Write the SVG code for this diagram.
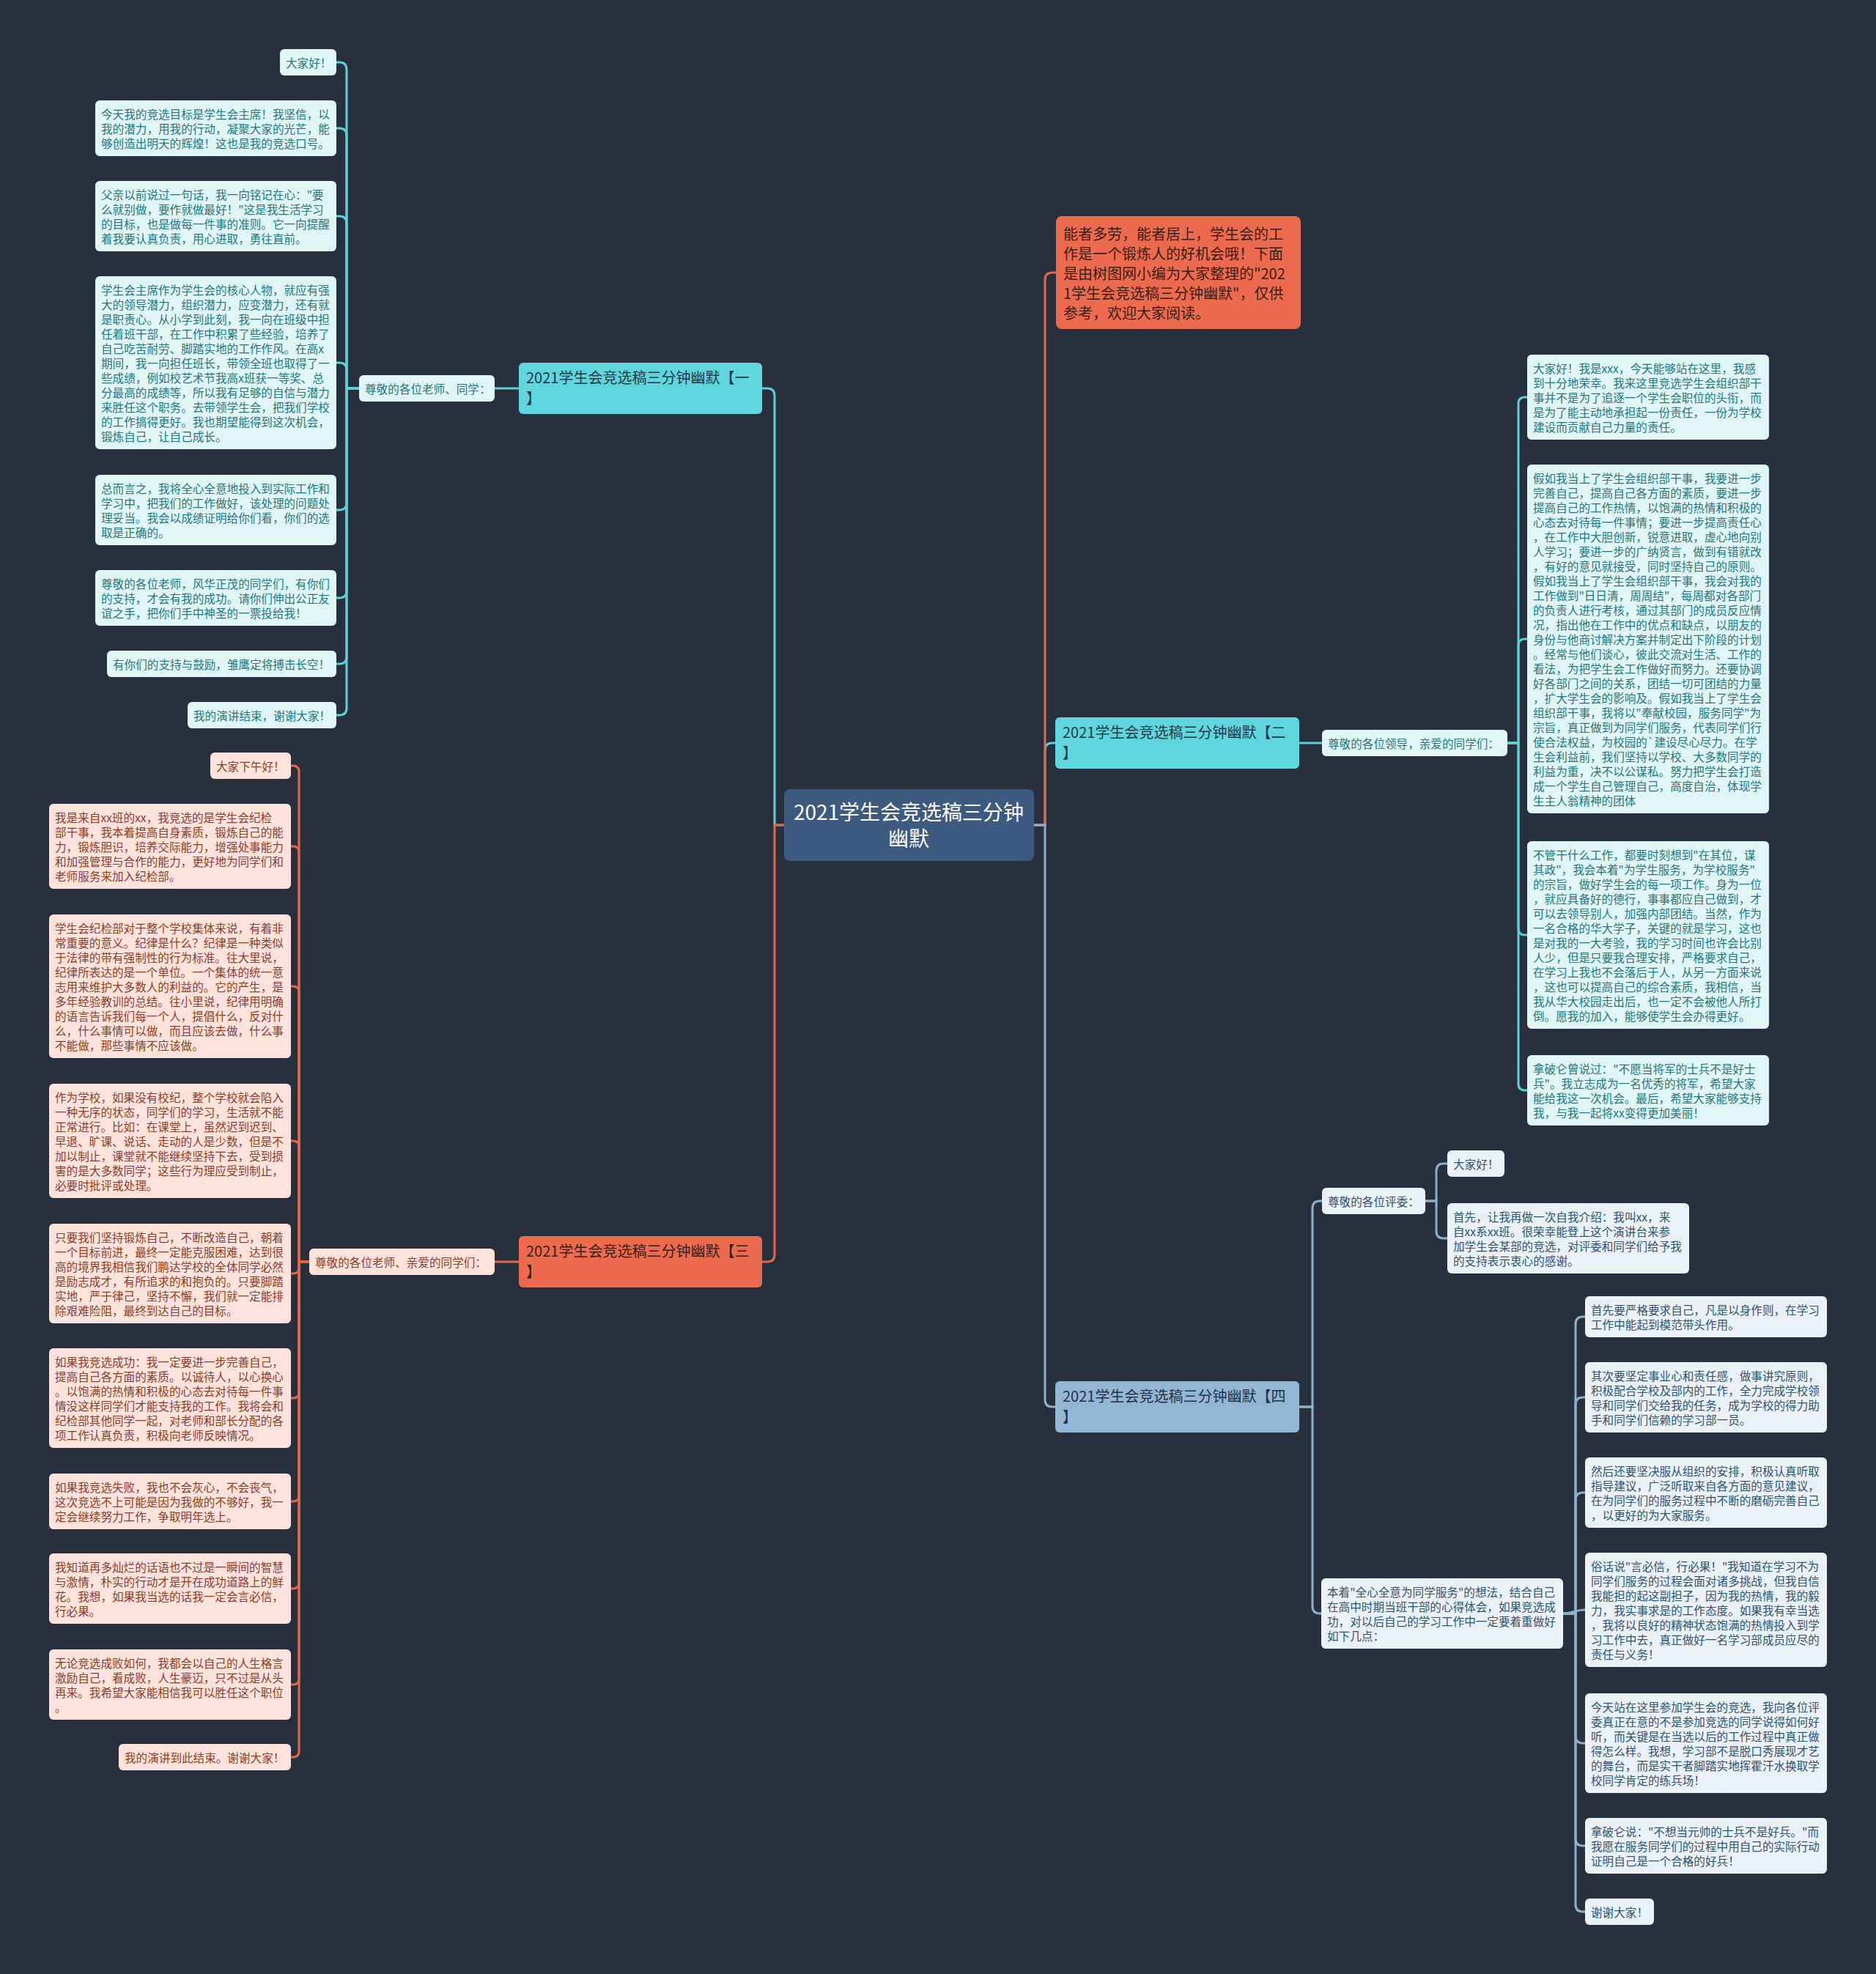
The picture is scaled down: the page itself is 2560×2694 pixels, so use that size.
<svg xmlns="http://www.w3.org/2000/svg" width="2560" height="2694" viewBox="0 0 2560 2694">
<style>
text{font-family:"Noto Sans CJK SC","Noto Sans",sans-serif;font-size:15.6px}
.lc{fill:#dff5f6}.lo{fill:#fde3dc}.lb{fill:#e9f0f6}
.tc{fill:#23777d}.to{fill:#8e3b29}.tb{fill:#2f5373}
.bc{fill:#5fd6dd}.bo{fill:#ec6b4e}.bb{fill:#93b6d3}
.bt{font-size:20px}
.btc{fill:#1e3a46}.bto{fill:#3a1d16}.btb{fill:#1e3348}
.ln{fill:none;stroke-width:3;stroke-linecap:round}
.cc{stroke:#5ccfd8}.co{stroke:#e2674b}.cb{stroke:#8fb0cc}
</style>
<rect x="0" y="0" width="2560" height="2694" fill="#29303d"/>

<g id="connectors">
 <g class="ln cc">
  <path d="M1070,1126 H1057 V540 Q1057,530 1047,530 H1040"/>
  <path d="M708,530 H675"/>
  <path d="M490,530 H473 V95 Q473,85 463,85 H459"/>
  <path d="M490,530 H473 V185 Q473,175 463,175 H459"/>
  <path d="M490,530 H473 V305 Q473,295 463,295 H459"/>
  <path d="M490,530 H473 V505 Q473,495 463,495 H459"/>
  <path d="M490,530 H473 V686 Q473,696 463,696 H459"/>
  <path d="M490,530 H473 V806 Q473,816 463,816 H459"/>
  <path d="M490,530 H473 V896 Q473,906 463,906 H459"/>
  <path d="M490,530 H473 V966 Q473,976 463,976 H459"/>
  <path d="M1411,1126 H1426 V1024 Q1426,1014 1436,1014 H1440"/>
  <path d="M1773,1014 H1804"/>
  <path d="M2057,1014 H2072 V551 Q2072,542 2081,542 H2084"/>
  <path d="M2057,1014 H2072 V881 Q2072,872 2081,872 H2084"/>
  <path d="M2057,1014 H2072 V1267 Q2072,1276 2081,1276 H2084"/>
  <path d="M2057,1014 H2072 V1479 Q2072,1488 2081,1488 H2084"/>
 </g>
 <g class="ln co">
  <path d="M1070,1126 H1057 V1712 Q1057,1722 1047,1722 H1040"/>
  <path d="M708,1722 H675"/>
  <path d="M422,1722 H408 V1053 Q408,1045 400,1045 H397"/>
  <path d="M422,1722 H408 V1163 Q408,1155 400,1155 H397"/>
  <path d="M422,1722 H408 V1354 Q408,1346 400,1346 H397"/>
  <path d="M422,1722 H408 V1565 Q408,1557 400,1557 H397"/>
  <path d="M422,1722 H408 V1730 Q408,1738 400,1738 H397"/>
  <path d="M422,1722 H408 V1900 Q408,1908 400,1908 H397"/>
  <path d="M422,1722 H408 V2041 Q408,2049 400,2049 H397"/>
  <path d="M422,1722 H408 V2160 Q408,2168 400,2168 H397"/>
  <path d="M422,1722 H408 V2291 Q408,2299 400,2299 H397"/>
  <path d="M422,1722 H408 V2390 Q408,2398 400,2398 H397"/>
  <path d="M1411,1126 H1426 V382 Q1426,372 1436,372 H1441"/>
 </g>
 <g class="ln cb">
  <path d="M1411,1126 H1426 V1910 Q1426,1920 1436,1920 H1440"/>
  <path d="M1773,1920 H1791 V1649 Q1791,1639 1801,1639 H1804"/>
  <path d="M1773,1920 H1791 V2192 Q1791,2202 1801,2202 H1803"/>
  <path d="M1945,1639 H1960 V1598 Q1960,1588 1970,1588 H1975"/>
  <path d="M1945,1639 H1960 V1680 Q1960,1690 1970,1690 H1975"/>
  <path d="M2133,2202 H2150 V1807 Q2150,1797 2160,1797 H2163"/>
  <path d="M2133,2202 H2150 V1917 Q2150,1907 2160,1907 H2163"/>
  <path d="M2133,2202 H2150 V2047 Q2150,2037 2160,2037 H2163"/>
  <path d="M2133,2202 C2150,2202 2146,2197 2163,2197"/>
  <path d="M2133,2202 H2150 V2369 Q2150,2379 2160,2379 H2163"/>
  <path d="M2133,2202 H2150 V2509 Q2150,2519 2160,2519 H2163"/>
  <path d="M2133,2202 H2150 V2599 Q2150,2609 2160,2609 H2163"/>
 </g>
</g>

<g id="center">
 <rect x="1070" y="1077" width="341" height="98" rx="8" fill="#3d5a80"/>
 <text x="1240" y="1119" text-anchor="middle" fill="#ffffff" style="font-size:28px">2021学生会竞选稿三分钟</text>
 <text x="1240" y="1155" text-anchor="middle" fill="#ffffff" style="font-size:28px">幽默</text>
</g>

<g id="intro">
 <rect x="1441" y="295" width="334" height="154" rx="8" class="bo"/>
 <text class="bt bto"><tspan x="1451" y="327">能者多劳，能者居上，学生会的工</tspan><tspan x="1451" dy="27">作是一个锻炼人的好机会哦！下面</tspan><tspan x="1451" dy="27">是由树图网小编为大家整理的"202</tspan><tspan x="1451" dy="27">1学生会竞选稿三分钟幽默"，仅供</tspan><tspan x="1451" dy="27">参考，欢迎大家阅读。</tspan></text>
</g>

<g id="branch1">
 <rect x="708" y="495" width="332" height="70" rx="6" class="bc"/>
 <text class="bt btc"><tspan x="718" y="523">2021学生会竞选稿三分钟幽默【一</tspan><tspan x="718" dy="28">】</tspan></text>
</g>
<g id="label1">
 <rect x="490" y="512" width="185" height="36" rx="6" class="lc"/>
 <text class="tc" x="498" y="537">尊敬的各位老师、同学：</text>
</g>
<g id="b1-leaf1"><rect x="382" y="67" width="77" height="36" rx="6" class="lc"/><text class="tc" x="390" y="92">大家好！</text></g>
<g id="b1-leaf2"><rect x="130" y="137" width="329" height="76" rx="6" class="lc"/><text class="tc"><tspan x="138" y="162">今天我的竞选目标是学生会主席！我坚信，以</tspan><tspan x="138" dy="20">我的潜力，用我的行动，凝聚大家的光芒，能</tspan><tspan x="138" dy="20">够创造出明天的辉煌！这也是我的竞选口号。</tspan></text></g>
<g id="b1-leaf3"><rect x="130" y="247" width="329" height="96" rx="6" class="lc"/><text class="tc"><tspan x="138" y="272">父亲以前说过一句话，我一向铭记在心："要</tspan><tspan x="138" dy="20">么就别做，要作就做最好！"这是我生活学习</tspan><tspan x="138" dy="20">的目标，也是做每一件事的准则。它一向提醒</tspan><tspan x="138" dy="20">着我要认真负责，用心进取，勇往直前。</tspan></text></g>
<g id="b1-leaf4"><rect x="130" y="377" width="329" height="236" rx="6" class="lc"/><text class="tc"><tspan x="138" y="402">学生会主席作为学生会的核心人物，就应有强</tspan><tspan x="138" dy="20">大的领导潜力，组织潜力，应变潜力，还有就</tspan><tspan x="138" dy="20">是职责心。从小学到此刻，我一向在班级中担</tspan><tspan x="138" dy="20">任着班干部，在工作中积累了些经验，培养了</tspan><tspan x="138" dy="20">自己吃苦耐劳、脚踏实地的工作作风。在高x</tspan><tspan x="138" dy="20">期间，我一向担任班长，带领全班也取得了一</tspan><tspan x="138" dy="20">些成绩，例如校艺术节我高x班获一等奖、总</tspan><tspan x="138" dy="20">分最高的成绩等，所以我有足够的自信与潜力</tspan><tspan x="138" dy="20">来胜任这个职务。去带领学生会，把我们学校</tspan><tspan x="138" dy="20">的工作搞得更好。我也期望能得到这次机会，</tspan><tspan x="138" dy="20">锻炼自己，让自己成长。</tspan></text></g>
<g id="b1-leaf5"><rect x="130" y="648" width="329" height="96" rx="6" class="lc"/><text class="tc"><tspan x="138" y="673">总而言之，我将全心全意地投入到实际工作和</tspan><tspan x="138" dy="20">学习中，把我们的工作做好，该处理的问题处</tspan><tspan x="138" dy="20">理妥当。我会以成绩证明给你们看，你们的选</tspan><tspan x="138" dy="20">取是正确的。</tspan></text></g>
<g id="b1-leaf6"><rect x="130" y="778" width="329" height="76" rx="6" class="lc"/><text class="tc"><tspan x="138" y="803">尊敬的各位老师，风华正茂的同学们，有你们</tspan><tspan x="138" dy="20">的支持，才会有我的成功。请你们伸出公正友</tspan><tspan x="138" dy="20">谊之手，把你们手中神圣的一票投给我！</tspan></text></g>
<g id="b1-leaf7"><rect x="146" y="888" width="313" height="36" rx="6" class="lc"/><text class="tc" x="154" y="913">有你们的支持与鼓励，雏鹰定将搏击长空！</text></g>
<g id="b1-leaf8"><rect x="256" y="958" width="203" height="36" rx="6" class="lc"/><text class="tc" x="264" y="983">我的演讲结束，谢谢大家！</text></g>

<g id="branch3">
 <rect x="708" y="1687" width="332" height="70" rx="6" class="bo"/>
 <text class="bt bto"><tspan x="718" y="1715">2021学生会竞选稿三分钟幽默【三</tspan><tspan x="718" dy="28">】</tspan></text>
</g>
<g id="label3">
 <rect x="422" y="1704" width="253" height="36" rx="6" class="lo"/>
 <text class="to" x="430" y="1729">尊敬的各位老师、亲爱的同学们：</text>
</g>
<g id="b3-leaf1"><rect x="287" y="1027" width="110" height="36" rx="6" class="lo"/><text class="to" x="295" y="1052">大家下午好！</text></g>
<g id="b3-leaf2"><rect x="67" y="1097" width="330" height="116" rx="6" class="lo"/><text class="to"><tspan x="75" y="1122">我是来自xx班的xx，我竞选的是学生会纪检</tspan><tspan x="75" dy="20">部干事，我本着提高自身素质，锻炼自己的能</tspan><tspan x="75" dy="20">力，锻炼胆识，培养交际能力，增强处事能力</tspan><tspan x="75" dy="20">和加强管理与合作的能力，更好地为同学们和</tspan><tspan x="75" dy="20">老师服务来加入纪检部。</tspan></text></g>
<g id="b3-leaf3"><rect x="67" y="1248" width="330" height="196" rx="6" class="lo"/><text class="to"><tspan x="75" y="1273">学生会纪检部对于整个学校集体来说，有着非</tspan><tspan x="75" dy="20">常重要的意义。纪律是什么？纪律是一种类似</tspan><tspan x="75" dy="20">于法律的带有强制性的行为标准。往大里说，</tspan><tspan x="75" dy="20">纪律所表达的是一个单位。一个集体的统一意</tspan><tspan x="75" dy="20">志用来维护大多数人的利益的。它的产生，是</tspan><tspan x="75" dy="20">多年经验教训的总结。往小里说，纪律用明确</tspan><tspan x="75" dy="20">的语言告诉我们每一个人，提倡什么，反对什</tspan><tspan x="75" dy="20">么，什么事情可以做，而且应该去做，什么事</tspan><tspan x="75" dy="20">不能做，那些事情不应该做。</tspan></text></g>
<g id="b3-leaf4"><rect x="67" y="1479" width="330" height="156" rx="6" class="lo"/><text class="to"><tspan x="75" y="1504">作为学校，如果没有校纪，整个学校就会陷入</tspan><tspan x="75" dy="20">一种无序的状态，同学们的学习，生活就不能</tspan><tspan x="75" dy="20">正常进行。比如：在课堂上，虽然迟到迟到、</tspan><tspan x="75" dy="20">早退、旷课、说话、走动的人是少数，但是不</tspan><tspan x="75" dy="20">加以制止，课堂就不能继续坚持下去，受到损</tspan><tspan x="75" dy="20">害的是大多数同学；这些行为理应受到制止，</tspan><tspan x="75" dy="20">必要时批评或处理。</tspan></text></g>
<g id="b3-leaf5"><rect x="67" y="1670" width="330" height="136" rx="6" class="lo"/><text class="to"><tspan x="75" y="1695">只要我们坚持锻炼自己，不断改造自己，朝着</tspan><tspan x="75" dy="20">一个目标前进，最终一定能克服困难，达到很</tspan><tspan x="75" dy="20">高的境界我相信我们鹏达学校的全体同学必然</tspan><tspan x="75" dy="20">是励志成才，有所追求的和抱负的。只要脚踏</tspan><tspan x="75" dy="20">实地，严于律己，坚持不懈，我们就一定能排</tspan><tspan x="75" dy="20">除艰难险阻，最终到达自己的目标。</tspan></text></g>
<g id="b3-leaf6"><rect x="67" y="1840" width="330" height="136" rx="6" class="lo"/><text class="to"><tspan x="75" y="1865">如果我竞选成功：我一定要进一步完善自己，</tspan><tspan x="75" dy="20">提高自己各方面的素质。以诚待人，以心换心</tspan><tspan x="75" dy="20">。以饱满的热情和积极的心态去对待每一件事</tspan><tspan x="75" dy="20">情没这样同学们才能支持我的工作。我将会和</tspan><tspan x="75" dy="20">纪检部其他同学一起，对老师和部长分配的各</tspan><tspan x="75" dy="20">项工作认真负责，积极向老师反映情况。</tspan></text></g>
<g id="b3-leaf7"><rect x="67" y="2011" width="330" height="76" rx="6" class="lo"/><text class="to"><tspan x="75" y="2036">如果我竞选失败，我也不会灰心，不会丧气，</tspan><tspan x="75" dy="20">这次竞选不上可能是因为我做的不够好，我一</tspan><tspan x="75" dy="20">定会继续努力工作，争取明年选上。</tspan></text></g>
<g id="b3-leaf8"><rect x="67" y="2120" width="330" height="96" rx="6" class="lo"/><text class="to"><tspan x="75" y="2145">我知道再多灿烂的话语也不过是一瞬间的智慧</tspan><tspan x="75" dy="20">与激情，朴实的行动才是开在成功道路上的鲜</tspan><tspan x="75" dy="20">花。我想，如果我当选的话我一定会言必信，</tspan><tspan x="75" dy="20">行必果。</tspan></text></g>
<g id="b3-leaf9"><rect x="67" y="2251" width="330" height="96" rx="6" class="lo"/><text class="to"><tspan x="75" y="2276">无论竞选成败如何，我都会以自己的人生格言</tspan><tspan x="75" dy="20">激励自己，看成败，人生豪迈，只不过是从头</tspan><tspan x="75" dy="20">再来。我希望大家能相信我可以胜任这个职位</tspan><tspan x="75" dy="20">。</tspan></text></g>
<g id="b3-leaf10"><rect x="162" y="2380" width="235" height="36" rx="6" class="lo"/><text class="to" x="170" y="2405">我的演讲到此结束。谢谢大家！</text></g>

<g id="branch2">
 <rect x="1440" y="979" width="333" height="70" rx="6" class="bc"/>
 <text class="bt btc"><tspan x="1450" y="1007">2021学生会竞选稿三分钟幽默【二</tspan><tspan x="1450" dy="28">】</tspan></text>
</g>
<g id="label2">
 <rect x="1804" y="996" width="253" height="36" rx="6" class="lc"/>
 <text class="tc" x="1812" y="1021">尊敬的各位领导，亲爱的同学们：</text>
</g>
<g id="b2-leaf1"><rect x="2084" y="484" width="330" height="116" rx="6" class="lc"/><text class="tc"><tspan x="2092" y="509">大家好！我是xxx，今天能够站在这里，我感</tspan><tspan x="2092" dy="20">到十分地荣幸。我来这里竞选学生会组织部干</tspan><tspan x="2092" dy="20">事并不是为了追逐一个学生会职位的头衔，而</tspan><tspan x="2092" dy="20">是为了能主动地承担起一份责任，一份为学校</tspan><tspan x="2092" dy="20">建设而贡献自己力量的责任。</tspan></text></g>
<g id="b2-leaf2"><rect x="2084" y="634" width="330" height="476" rx="6" class="lc"/><text class="tc"><tspan x="2092" y="659">假如我当上了学生会组织部干事，我要进一步</tspan><tspan x="2092" dy="20">完善自己，提高自己各方面的素质，要进一步</tspan><tspan x="2092" dy="20">提高自己的工作热情，以饱满的热情和积极的</tspan><tspan x="2092" dy="20">心态去对待每一件事情；要进一步提高责任心</tspan><tspan x="2092" dy="20">，在工作中大胆创新，锐意进取，虚心地向别</tspan><tspan x="2092" dy="20">人学习；要进一步的广纳贤言，做到有错就改</tspan><tspan x="2092" dy="20">，有好的意见就接受，同时坚持自己的原则。</tspan><tspan x="2092" dy="20">假如我当上了学生会组织部干事，我会对我的</tspan><tspan x="2092" dy="20">工作做到"日日清，周周结"，每周都对各部门</tspan><tspan x="2092" dy="20">的负责人进行考核，通过其部门的成员反应情</tspan><tspan x="2092" dy="20">况，指出他在工作中的优点和缺点，以朋友的</tspan><tspan x="2092" dy="20">身份与他商讨解决方案并制定出下阶段的计划</tspan><tspan x="2092" dy="20">。经常与他们谈心，彼此交流对生活、工作的</tspan><tspan x="2092" dy="20">看法，为把学生会工作做好而努力。还要协调</tspan><tspan x="2092" dy="20">好各部门之间的关系，团结一切可团结的力量</tspan><tspan x="2092" dy="20">，扩大学生会的影响及。假如我当上了学生会</tspan><tspan x="2092" dy="20">组织部干事，我将以"奉献校园，服务同学"为</tspan><tspan x="2092" dy="20">宗旨，真正做到为同学们服务，代表同学们行</tspan><tspan x="2092" dy="20">使合法权益，为校园的`建设尽心尽力。在学</tspan><tspan x="2092" dy="20">生会利益前，我们坚持以学校、大多数同学的</tspan><tspan x="2092" dy="20">利益为重，决不以公谋私。努力把学生会打造</tspan><tspan x="2092" dy="20">成一个学生自己管理自己，高度自治，体现学</tspan><tspan x="2092" dy="20">生主人翁精神的团体</tspan></text></g>
<g id="b2-leaf3"><rect x="2084" y="1148" width="330" height="256" rx="6" class="lc"/><text class="tc"><tspan x="2092" y="1173">不管干什么工作，都要时刻想到"在其位，谋</tspan><tspan x="2092" dy="20">其政"，我会本着"为学生服务，为学校服务"</tspan><tspan x="2092" dy="20">的宗旨，做好学生会的每一项工作。身为一位</tspan><tspan x="2092" dy="20">，就应具备好的德行，事事都应自己做到，才</tspan><tspan x="2092" dy="20">可以去领导别人，加强内部团结。当然，作为</tspan><tspan x="2092" dy="20">一名合格的华大学子，关键的就是学习，这也</tspan><tspan x="2092" dy="20">是对我的一大考验，我的学习时间也许会比别</tspan><tspan x="2092" dy="20">人少，但是只要我合理安排，严格要求自己，</tspan><tspan x="2092" dy="20">在学习上我也不会落后于人，从另一方面来说</tspan><tspan x="2092" dy="20">，这也可以提高自己的综合素质，我相信，当</tspan><tspan x="2092" dy="20">我从华大校园走出后，也一定不会被他人所打</tspan><tspan x="2092" dy="20">倒。愿我的加入，能够使学生会办得更好。</tspan></text></g>
<g id="b2-leaf4"><rect x="2084" y="1440" width="330" height="96" rx="6" class="lc"/><text class="tc"><tspan x="2092" y="1465">拿破仑曾说过："不愿当将军的士兵不是好士</tspan><tspan x="2092" dy="20">兵"。我立志成为一名优秀的将军，希望大家</tspan><tspan x="2092" dy="20">能给我这一次机会。最后，希望大家能够支持</tspan><tspan x="2092" dy="20">我，与我一起将xx变得更加美丽！</tspan></text></g>

<g id="branch4">
 <rect x="1440" y="1885" width="333" height="70" rx="6" class="bb"/>
 <text class="bt btb"><tspan x="1450" y="1913">2021学生会竞选稿三分钟幽默【四</tspan><tspan x="1450" dy="28">】</tspan></text>
</g>
<g id="label4a">
 <rect x="1804" y="1621" width="141" height="36" rx="6" class="lb"/>
 <text class="tb" x="1812" y="1646">尊敬的各位评委：</text>
</g>
<g id="b4a-leaf1"><rect x="1975" y="1570" width="78" height="36" rx="6" class="lb"/><text class="tb" x="1983" y="1595">大家好！</text></g>
<g id="b4a-leaf2"><rect x="1975" y="1642" width="330" height="96" rx="6" class="lb"/><text class="tb"><tspan x="1983" y="1667">首先，让我再做一次自我介绍：我叫xx，来</tspan><tspan x="1983" dy="20">自xx系xx班。很荣幸能登上这个演讲台来参</tspan><tspan x="1983" dy="20">加学生会某部的竞选，对评委和同学们给予我</tspan><tspan x="1983" dy="20">的支持表示衷心的感谢。</tspan></text></g>
<g id="label4b">
 <rect x="1803" y="2154" width="330" height="96" rx="6" class="lb"/>
 <text class="tb"><tspan x="1811" y="2179">本着"全心全意为同学服务"的想法，结合自己</tspan><tspan x="1811" dy="20">在高中时期当班干部的心得体会，如果竞选成</tspan><tspan x="1811" dy="20">功，对以后自己的学习工作中一定要着重做好</tspan><tspan x="1811" dy="20">如下几点：</tspan></text>
</g>
<g id="b4b-leaf1"><rect x="2163" y="1769" width="330" height="56" rx="6" class="lb"/><text class="tb"><tspan x="2171" y="1794">首先要严格要求自己，凡是以身作则，在学习</tspan><tspan x="2171" dy="20">工作中能起到模范带头作用。</tspan></text></g>
<g id="b4b-leaf2"><rect x="2163" y="1859" width="330" height="96" rx="6" class="lb"/><text class="tb"><tspan x="2171" y="1884">其次要坚定事业心和责任感，做事讲究原则，</tspan><tspan x="2171" dy="20">积极配合学校及部内的工作，全力完成学校领</tspan><tspan x="2171" dy="20">导和同学们交给我的任务，成为学校的得力助</tspan><tspan x="2171" dy="20">手和同学们信赖的学习部一员。</tspan></text></g>
<g id="b4b-leaf3"><rect x="2163" y="1989" width="330" height="96" rx="6" class="lb"/><text class="tb"><tspan x="2171" y="2014">然后还要坚决服从组织的安排，积极认真听取</tspan><tspan x="2171" dy="20">指导建议，广泛听取来自各方面的意见建议，</tspan><tspan x="2171" dy="20">在为同学们的服务过程中不断的磨砺完善自己</tspan><tspan x="2171" dy="20">，以更好的为大家服务。</tspan></text></g>
<g id="b4b-leaf4"><rect x="2163" y="2119" width="330" height="156" rx="6" class="lb"/><text class="tb"><tspan x="2171" y="2144">俗话说"言必信，行必果！"我知道在学习不为</tspan><tspan x="2171" dy="20">同学们服务的过程会面对诸多挑战，但我自信</tspan><tspan x="2171" dy="20">我能担的起这副担子，因为我的热情，我的毅</tspan><tspan x="2171" dy="20">力，我实事求是的工作态度。如果我有幸当选</tspan><tspan x="2171" dy="20">，我将以良好的精神状态饱满的热情投入到学</tspan><tspan x="2171" dy="20">习工作中去，真正做好一名学习部成员应尽的</tspan><tspan x="2171" dy="20">责任与义务！</tspan></text></g>
<g id="b4b-leaf5"><rect x="2163" y="2311" width="330" height="136" rx="6" class="lb"/><text class="tb"><tspan x="2171" y="2336">今天站在这里参加学生会的竞选，我向各位评</tspan><tspan x="2171" dy="20">委真正在意的不是参加竞选的同学说得如何好</tspan><tspan x="2171" dy="20">听，而关键是在当选以后的工作过程中真正做</tspan><tspan x="2171" dy="20">得怎么样。我想，学习部不是脱口秀展现才艺</tspan><tspan x="2171" dy="20">的舞台，而是实干者脚踏实地挥霍汗水换取学</tspan><tspan x="2171" dy="20">校同学肯定的练兵场！</tspan></text></g>
<g id="b4b-leaf6"><rect x="2163" y="2481" width="330" height="76" rx="6" class="lb"/><text class="tb"><tspan x="2171" y="2506">拿破仑说："不想当元帅的士兵不是好兵。"而</tspan><tspan x="2171" dy="20">我愿在服务同学们的过程中用自己的实际行动</tspan><tspan x="2171" dy="20">证明自己是一个合格的好兵！</tspan></text></g>
<g id="b4b-leaf7"><rect x="2163" y="2591" width="94" height="36" rx="6" class="lb"/><text class="tb" x="2171" y="2616">谢谢大家！</text></g>
</svg>
